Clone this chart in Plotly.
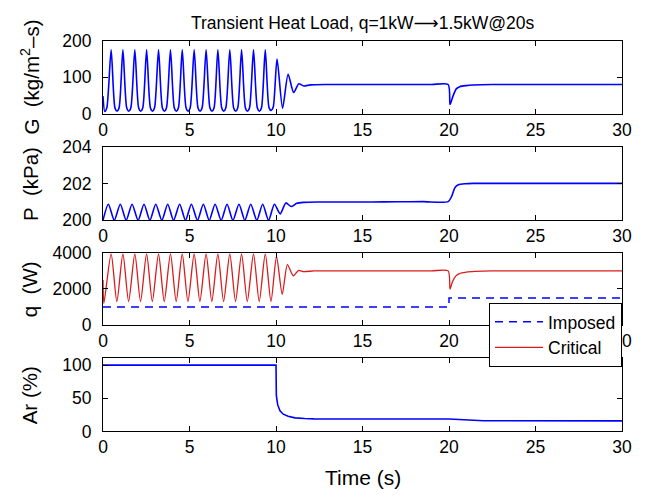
import plotly.graph_objects as go
from plotly.subplots import make_subplots

# ---- mass flux G (kg/m^2-s): points along the trace (peak, shoulder, trough, shoulder) ----
t_G = [0.00, 0.10, 0.22,
       0.47, 0.69, 0.81, 0.93,
       1.15, 1.37, 1.49, 1.61,
       1.84, 2.06, 2.18, 2.30,
       2.52, 2.74, 2.86, 2.98,
       3.21, 3.43, 3.55, 3.67,
       3.90, 4.12, 4.24, 4.36,
       4.58, 4.80, 4.92, 5.04,
       5.27, 5.49, 5.61, 5.73,
       5.96, 6.18, 6.30, 6.42,
       6.64, 6.86, 6.98, 7.10,
       7.33, 7.55, 7.67, 7.79,
       8.01, 8.23, 8.35, 8.47,
       8.70, 8.92, 9.04, 9.16,
       9.38, 9.60, 9.72, 9.84,
       10.06, 10.38, 10.70, 11.02, 11.32, 11.60, 12.00, 13.00,
       14.5, 16.0, 17.5, 19.0, 19.95,
       20.06, 20.23, 20.42, 20.62, 21.00, 21.40, 22.50,
       24.0, 26.0, 28.0, 30.00]
G = [48, 6, 16,
     175, 16, 7, 16,
     175, 16, 7, 16,
     175, 16, 7, 16,
     175, 16, 7, 16,
     175, 16, 7, 16,
     175, 16, 7, 16,
     175, 16, 7, 16,
     175, 16, 7, 16,
     175, 16, 7, 16,
     175, 16, 7, 16,
     175, 16, 7, 16,
     175, 16, 7, 16,
     175, 16, 7, 16,
     175, 16, 9, 18,
     150, 15, 108, 58, 82, 76, 79, 80,
     80, 80, 80, 80, 80,
     25, 48, 68, 74, 77, 78.5, 80,
     80, 80, 80, 80]

# ---- system pressure P (kPa) ----
t_P = [0.00,
       0.31, 0.65, 1.00, 1.34, 1.68, 2.03, 2.37, 2.71, 3.05, 3.40, 3.74, 4.08,
       4.43, 4.77, 5.11, 5.46, 5.80, 6.14, 6.48, 6.83, 7.17, 7.51, 7.86, 8.20,
       8.54, 8.89, 9.23, 9.57,
       9.91, 10.24, 10.57, 10.88, 11.20, 11.60, 12.50,
       14.0, 15.5, 17.0, 18.5, 19.95,
       20.15, 20.35, 20.54, 20.92, 21.40,
       23.0, 25.0, 27.0, 30.00]
P = [200.0,
     200.88, 200.0, 200.88, 200.0, 200.88, 200.0, 200.88, 200.0, 200.88, 200.0, 200.88, 200.0,
     200.88, 200.0, 200.88, 200.0, 200.88, 200.0, 200.88, 200.0, 200.88, 200.0, 200.88, 200.0,
     200.88, 200.0, 200.88, 200.0,
     200.88, 200.35, 200.95, 200.75, 200.93, 200.98, 201.0,
     201.0, 201.0, 201.01, 201.02, 201.02,
     201.3, 201.8, 201.94, 202.0, 202.02,
     202.02, 202.02, 202.02, 202.02]

# ---- heat load q (W): imposed step and critical value ----
t_imp = [0, 20, 20, 30]
q_imp = [1000, 1000, 1500, 1500]

t_crit = [0.00, 0.05,
          0.47, 0.80, 1.15, 1.48, 1.84, 2.17, 2.52, 2.85, 3.21, 3.54, 3.90, 4.23,
          4.58, 4.91, 5.27, 5.60, 5.96, 6.29, 6.64, 6.97, 7.33, 7.66, 8.01, 8.34,
          8.70, 9.03, 9.38, 9.71,
          10.03, 10.36, 10.66, 11.00, 11.30, 11.60, 12.20, 13.00,
          14.5, 16.0, 17.5, 19.0, 19.95,
          20.06, 20.20, 20.40, 20.60, 21.00, 21.50, 22.50,
          24.0, 26.0, 28.0, 30.00]
q_crit = [2500, 1200,
          3950, 1300, 3950, 1300, 3950, 1300, 3950, 1300, 3950, 1300, 3950, 1300,
          3950, 1300, 3950, 1300, 3950, 1300, 3950, 1300, 3950, 1300, 3950, 1300,
          3950, 1300, 3950, 1300,
          3800, 1700, 3350, 2720, 3020, 2960, 2995, 3000,
          3000, 3000, 3000, 3000, 3000,
          1990, 2400, 2720, 2850, 2930, 2970, 3000,
          3000, 3000, 3000, 3000]

# ---- Ar (%) ----
t_Ar = [0, 10.0, 10.02, 10.1, 10.23, 10.42, 10.7, 11.1, 11.66, 12.2,
        20.0, 20.5, 21.0, 22.0, 30.0]
Ar = [100, 100, 54, 40, 31, 26, 23, 20.5, 19.5, 19,
      18.8, 18, 16.8, 16.2, 16.0]

x_ticks = [0, 5, 10, 15, 20, 25, 30]

BLUE = "#0000ff"
RED = "#d91c1c"
FONT = "Liberation Sans, Arial, sans-serif"
TICK_SIZE = 17.5
LABEL_SIZE = 21

fig = make_subplots(rows=4, cols=1)

fig.add_trace(go.Scatter(x=t_G, y=G, mode="lines", showlegend=False,
                         line=dict(color=BLUE, width=1.6, shape="spline", smoothing=0.7)),
              row=1, col=1)
fig.add_trace(go.Scatter(x=t_P, y=P, mode="lines", showlegend=False,
                         line=dict(color=BLUE, width=1.6, shape="spline", smoothing=0.7)),
              row=2, col=1)
fig.add_trace(go.Scatter(x=t_imp, y=q_imp, mode="lines", name="Imposed",
                         line=dict(color=BLUE, width=1.5, dash="8px,6px")),
              row=3, col=1)
fig.add_trace(go.Scatter(x=t_crit, y=q_crit, mode="lines", name="Critical",
                         line=dict(color=RED, width=1.3, shape="spline", smoothing=0.7)),
              row=3, col=1)
fig.add_trace(go.Scatter(x=t_Ar, y=Ar, mode="lines", showlegend=False,
                         line=dict(color=BLUE, width=1.6)),
              row=4, col=1)

y_domains = [[0.784, 0.936], [0.562, 0.714], [0.344, 0.494], [0.122, 0.274]]
y_ranges = [[0, 200], [200, 204], [0, 4000], [0, 110]]
y_ticks = [[0, 100, 200], [200, 202, 204], [0, 2000, 4000], [0, 50, 100]]

axis_style = dict(showline=True, linecolor="black", linewidth=1, mirror="allticks",
                  ticks="inside", ticklen=5, tickwidth=1, tickcolor="black",
                  showgrid=False, zeroline=False,
                  tickfont=dict(family=FONT, size=TICK_SIZE, color="black"))

for i in range(4):
    fig.update_xaxes(range=[0, 30], tickvals=x_ticks, domain=[0, 1],
                     row=i + 1, col=1, **axis_style)
    fig.update_yaxes(range=y_ranges[i], tickvals=y_ticks[i], domain=y_domains[i],
                     ticklabelstandoff=7, row=i + 1, col=1, **axis_style)

y_titles = ["G\u00a0\u00a0(kg/m<sup>2</sup>\u2013s)", "P\u00a0\u00a0(kPa)",
            "q\u00a0\u00a0(W)", "Ar (%)"]
for title, dom in zip(y_titles, y_domains):
    fig.add_annotation(text=title, textangle=-90, xref="paper", yref="paper",
                       x=-0.14, y=(dom[0] + dom[1]) / 2, xanchor="center",
                       yanchor="middle", showarrow=False,
                       font=dict(family=FONT, size=20.5, color="black"))

fig.add_annotation(text="Transient Heat Load, q=1kW<span style=\"font-family:DejaVu Sans\">\u27f6</span>1.5kW@20s",
                   xref="paper", yref="paper", x=0.5, y=0.972,
                   xanchor="center", yanchor="middle", showarrow=False,
                   font=dict(family=FONT, size=17.5, color="black"))
fig.add_annotation(text="Time (s)", xref="paper", yref="paper", x=0.5, y=0.026,
                   xanchor="center", yanchor="middle", showarrow=False,
                   font=dict(family=FONT, size=LABEL_SIZE, color="black"))

fig.update_layout(
    width=647, height=500,
    margin=dict(l=103, r=25, t=0, b=0),
    paper_bgcolor="white", plot_bgcolor="white",
    legend=dict(x=1, xanchor="right", y=0.39, yanchor="top",
                bgcolor="white", bordercolor="black", borderwidth=1,
                font=dict(family=FONT, size=17.5, color="black"),
                itemwidth=48, tracegroupgap=0),
)

fig.write_html("out.html")
